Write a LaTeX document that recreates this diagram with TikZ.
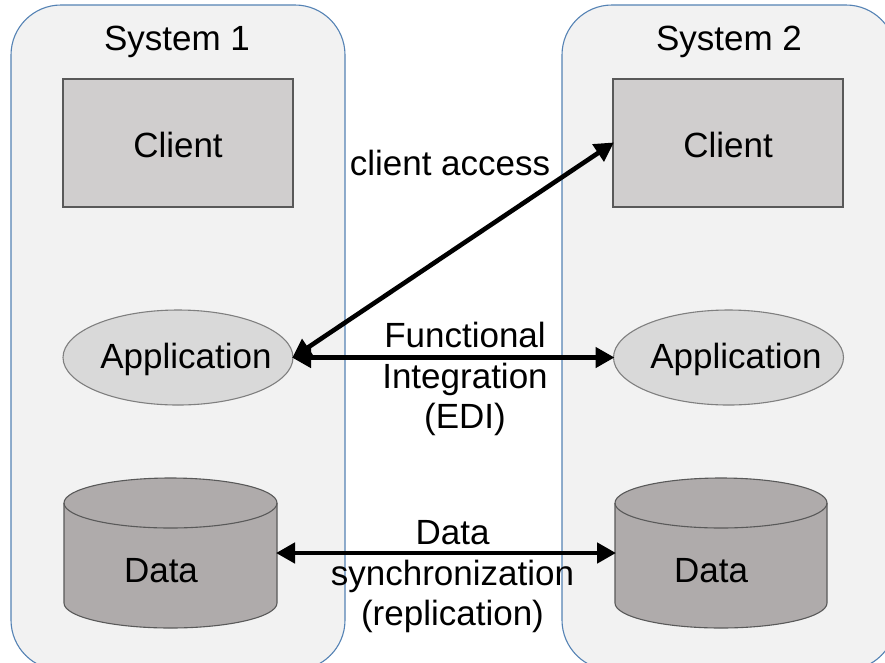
\documentclass[tikz,border=0pt]{standalone}
\usepackage{fontspec}
\setmainfont{Liberation Sans}
\usetikzlibrary{arrows.meta,shapes.geometric}

\definecolor{sysfill}{HTML}{F2F2F2}
\definecolor{sysline}{HTML}{5482B4}
\definecolor{clientfill}{HTML}{D0CECE}
\definecolor{appfill}{HTML}{D9D9D9}
\definecolor{datafill}{HTML}{AFABAB}
\definecolor{boxline}{HTML}{595959}
\definecolor{appline}{HTML}{7F7F7F}

\tikzset{
  x=1pt, y=1pt,
  every node/.style={font=\fontsize{35}{40.5}\selectfont, inner sep=0pt, outer sep=0pt},
  system/.style={draw=sysline, line width=1.1pt, fill=sysfill, rounded corners=50pt},
  clientbox/.style={draw=boxline, line width=1.2pt, fill=clientfill, rectangle,
    minimum width=230pt, minimum height=128pt},
  appshape/.style={draw=appline, line width=1.1pt, fill=appfill, ellipse,
    minimum width=230pt, minimum height=95pt},
  datashape/.style={draw=boxline, line width=1.1pt, fill=datafill},
  dataanchor/.style={rectangle, minimum width=#1, minimum height=150pt},
  link/.style={line width=4.6pt, {Triangle[length=19pt,width=20pt]}-{Triangle[length=19pt,width=20pt]}, shorten <=-1pt, shorten >=-1pt},
}

\begin{document}
\begin{tikzpicture}
  \useasboundingbox (0,0) rectangle (885,-662);

  % the two systems
  \begin{scope}
    \clip (0,0) rectangle (885,-662);
    \draw[system] (11,-5) rectangle (345,-670);
    \draw[system] (562,-5) rectangle (896,-670);
  \end{scope}
  \node[anchor=base] (s1) at (177,-50) {System 1};
  \node[anchor=base] (s2) at (729,-50) {System 2};

  % clients
  \node[clientbox] (c1) at (178,-143) {};
  \node[clientbox] (c2) at (728,-143) {};
  \node[anchor=base] (c1t) at (178,-157) {Client};
  \node[anchor=base] (c2t) at (728,-157) {Client};

  % applications
  \node[appshape] (a1) at (178,-357.5) {};
  \node[appshape] (a2) at (728.5,-357.5) {};
  \node[anchor=base] (a1t) at (186,-368) {Application};
  \node[anchor=base] (a2t) at (736,-368) {Application};

  % databases
  \draw[datashape] (64,-503) -- (64,-603)
    arc[start angle=180, end angle=360, x radius=106.5, y radius=25]
    -- (277,-503)
    arc[start angle=0, end angle=180, x radius=106.5, y radius=25] -- cycle;
  \draw[datashape, fill=none] (64,-503)
    arc[start angle=180, end angle=360, x radius=106.5, y radius=25];
  \draw[datashape] (615,-503) -- (615,-603)
    arc[start angle=180, end angle=360, x radius=106, y radius=25]
    -- (827,-503)
    arc[start angle=0, end angle=180, x radius=106, y radius=25] -- cycle;
  \draw[datashape, fill=none] (615,-503)
    arc[start angle=180, end angle=360, x radius=106, y radius=25];
  \node[dataanchor=213pt] (d1) at (170.5,-553) {};
  \node[dataanchor=212pt] (d2) at (721,-553) {};
  \node[anchor=base] (d1t) at (161,-582) {Data};
  \node[anchor=base] (d2t) at (711,-582) {Data};

  % connections
  \draw[link] (a1.east) -- (c2.west);
  \draw[link] (a1.east) -- (a2.west);
  \draw[link] (d1.east) -- (d2.west);

  % connection labels
  \node[anchor=base] (l1) at (450,-175) {client access};
  \node[align=center] (l2) at (465,-379) {Functional\\Integration\\(EDI)};
  \node[align=center] (l3) at (452.5,-577) {Data\\synchronization\\(replication)};
\end{tikzpicture}
\end{document}
